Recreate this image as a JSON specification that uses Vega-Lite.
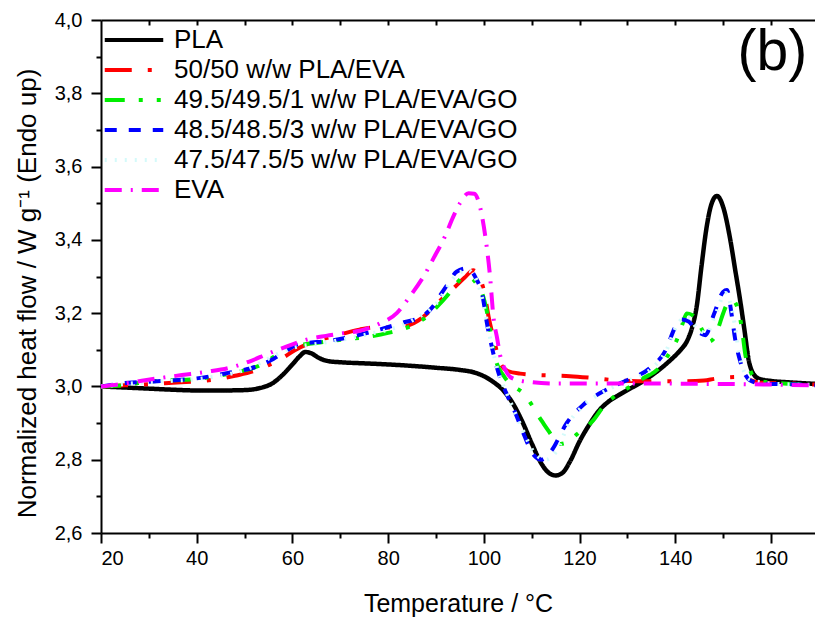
{
  "$schema": "https://vega.github.io/schema/vega-lite/v6.json",
  "width": 714,
  "height": 513,
  "autosize": {"type": "none"},
  "padding": {"left": 101, "top": 20, "right": 0, "bottom": 88},
  "background": "white",
  "config": {
    "font": "Liberation Sans",
    "text": {"font": "Liberation Sans"},
    "view": {"stroke": null},
    "axis": {"labelFont": "Liberation Sans", "titleFont": "Liberation Sans", "labelColor": "black", "titleColor": "black", "domainColor": "black", "tickColor": "black", "grid": false, "domainWidth": 2, "tickWidth": 2, "titleFontWeight": "normal"},
    "legend": {"labelFont": "Liberation Sans", "labelColor": "black"}
  },
  "datasets": {
    "curves": [
      {"s":"PLA","T":20,"v":3.000},{"s":"PLA","T":25,"v":2.997},{"s":"PLA","T":30,"v":2.994},{"s":"PLA","T":35,"v":2.991},{"s":"PLA","T":40,"v":2.989},{"s":"PLA","T":45,"v":2.989},{"s":"PLA","T":50,"v":2.990},{"s":"PLA","T":53,"v":2.995},{"s":"PLA","T":56,"v":3.010},{"s":"PLA","T":58,"v":3.032},{"s":"PLA","T":60,"v":3.060},{"s":"PLA","T":61.5,"v":3.082},{"s":"PLA","T":62.7,"v":3.094},{"s":"PLA","T":64,"v":3.090},{"s":"PLA","T":65.5,"v":3.078},{"s":"PLA","T":67.5,"v":3.069},{"s":"PLA","T":70,"v":3.066},{"s":"PLA","T":75,"v":3.063},{"s":"PLA","T":80,"v":3.060},{"s":"PLA","T":85,"v":3.056},{"s":"PLA","T":90,"v":3.051},{"s":"PLA","T":95,"v":3.045},{"s":"PLA","T":98,"v":3.038},{"s":"PLA","T":100,"v":3.028},{"s":"PLA","T":102,"v":3.012},{"s":"PLA","T":104,"v":2.990},{"s":"PLA","T":106,"v":2.955},{"s":"PLA","T":108,"v":2.905},{"s":"PLA","T":110,"v":2.845},{"s":"PLA","T":112,"v":2.790},{"s":"PLA","T":113.5,"v":2.765},{"s":"PLA","T":115,"v":2.757},{"s":"PLA","T":116.5,"v":2.765},{"s":"PLA","T":118,"v":2.795},{"s":"PLA","T":120,"v":2.850},{"s":"PLA","T":122,"v":2.895},{"s":"PLA","T":124,"v":2.933},{"s":"PLA","T":126,"v":2.958},{"s":"PLA","T":128,"v":2.975},{"s":"PLA","T":130,"v":2.990},{"s":"PLA","T":133,"v":3.012},{"s":"PLA","T":136,"v":3.039},{"s":"PLA","T":139,"v":3.072},{"s":"PLA","T":141,"v":3.098},{"s":"PLA","T":142.5,"v":3.125},{"s":"PLA","T":143.5,"v":3.160},{"s":"PLA","T":144.5,"v":3.220},{"s":"PLA","T":145.5,"v":3.330},{"s":"PLA","T":146.5,"v":3.430},{"s":"PLA","T":147.5,"v":3.495},{"s":"PLA","T":148.7,"v":3.520},{"s":"PLA","T":150,"v":3.490},{"s":"PLA","T":151.5,"v":3.400},{"s":"PLA","T":152.5,"v":3.320},{"s":"PLA","T":153.5,"v":3.240},{"s":"PLA","T":154.5,"v":3.150},{"s":"PLA","T":155.3,"v":3.075},{"s":"PLA","T":156.3,"v":3.035},{"s":"PLA","T":157.7,"v":3.020},{"s":"PLA","T":160,"v":3.015},{"s":"PLA","T":164,"v":3.011},{"s":"PLA","T":169.2,"v":3.007},

      {"s":"50/50 w/w PLA/EVA","T":20,"v":3.000},{"s":"50/50 w/w PLA/EVA","T":25,"v":3.003},{"s":"50/50 w/w PLA/EVA","T":30,"v":3.006},{"s":"50/50 w/w PLA/EVA","T":35,"v":3.010},{"s":"50/50 w/w PLA/EVA","T":40,"v":3.014},{"s":"50/50 w/w PLA/EVA","T":45,"v":3.021},{"s":"50/50 w/w PLA/EVA","T":48,"v":3.029},{"s":"50/50 w/w PLA/EVA","T":52,"v":3.042},{"s":"50/50 w/w PLA/EVA","T":55,"v":3.058},{"s":"50/50 w/w PLA/EVA","T":58,"v":3.078},{"s":"50/50 w/w PLA/EVA","T":60.5,"v":3.099},{"s":"50/50 w/w PLA/EVA","T":63,"v":3.115},{"s":"50/50 w/w PLA/EVA","T":66,"v":3.128},{"s":"50/50 w/w PLA/EVA","T":70,"v":3.142},{"s":"50/50 w/w PLA/EVA","T":74,"v":3.155},{"s":"50/50 w/w PLA/EVA","T":77,"v":3.161},{"s":"50/50 w/w PLA/EVA","T":80,"v":3.161},{"s":"50/50 w/w PLA/EVA","T":82,"v":3.159},{"s":"50/50 w/w PLA/EVA","T":84,"v":3.165},{"s":"50/50 w/w PLA/EVA","T":86.3,"v":3.180},{"s":"50/50 w/w PLA/EVA","T":88,"v":3.197},{"s":"50/50 w/w PLA/EVA","T":90.2,"v":3.226},{"s":"50/50 w/w PLA/EVA","T":92,"v":3.248},{"s":"50/50 w/w PLA/EVA","T":94,"v":3.272},{"s":"50/50 w/w PLA/EVA","T":96,"v":3.297},{"s":"50/50 w/w PLA/EVA","T":97.8,"v":3.317},{"s":"50/50 w/w PLA/EVA","T":99,"v":3.300},{"s":"50/50 w/w PLA/EVA","T":100,"v":3.262},{"s":"50/50 w/w PLA/EVA","T":101,"v":3.190},{"s":"50/50 w/w PLA/EVA","T":102.3,"v":3.117},{"s":"50/50 w/w PLA/EVA","T":103.4,"v":3.065},{"s":"50/50 w/w PLA/EVA","T":105,"v":3.042},{"s":"50/50 w/w PLA/EVA","T":107.6,"v":3.035},{"s":"50/50 w/w PLA/EVA","T":110,"v":3.032},{"s":"50/50 w/w PLA/EVA","T":114,"v":3.030},{"s":"50/50 w/w PLA/EVA","T":118,"v":3.028},{"s":"50/50 w/w PLA/EVA","T":122,"v":3.024},{"s":"50/50 w/w PLA/EVA","T":127.5,"v":3.017},{"s":"50/50 w/w PLA/EVA","T":135,"v":3.014},{"s":"50/50 w/w PLA/EVA","T":141.7,"v":3.014},{"s":"50/50 w/w PLA/EVA","T":146,"v":3.016},{"s":"50/50 w/w PLA/EVA","T":148.3,"v":3.021},{"s":"50/50 w/w PLA/EVA","T":151,"v":3.025},{"s":"50/50 w/w PLA/EVA","T":153.5,"v":3.026},{"s":"50/50 w/w PLA/EVA","T":155.5,"v":3.018},{"s":"50/50 w/w PLA/EVA","T":158,"v":3.010},{"s":"50/50 w/w PLA/EVA","T":164.6,"v":3.008},{"s":"50/50 w/w PLA/EVA","T":169.2,"v":3.005},

      {"s":"49.5/49.5/1 w/w PLA/EVA/GO","T":20,"v":3.000},{"s":"49.5/49.5/1 w/w PLA/EVA/GO","T":23,"v":3.001},{"s":"49.5/49.5/1 w/w PLA/EVA/GO","T":27,"v":3.008},{"s":"49.5/49.5/1 w/w PLA/EVA/GO","T":31,"v":3.014},{"s":"49.5/49.5/1 w/w PLA/EVA/GO","T":35,"v":3.017},{"s":"49.5/49.5/1 w/w PLA/EVA/GO","T":39,"v":3.019},{"s":"49.5/49.5/1 w/w PLA/EVA/GO","T":44,"v":3.028},{"s":"49.5/49.5/1 w/w PLA/EVA/GO","T":48.7,"v":3.040},{"s":"49.5/49.5/1 w/w PLA/EVA/GO","T":53.6,"v":3.060},{"s":"49.5/49.5/1 w/w PLA/EVA/GO","T":56,"v":3.080},{"s":"49.5/49.5/1 w/w PLA/EVA/GO","T":57.8,"v":3.099},{"s":"49.5/49.5/1 w/w PLA/EVA/GO","T":60,"v":3.110},{"s":"49.5/49.5/1 w/w PLA/EVA/GO","T":64,"v":3.117},{"s":"49.5/49.5/1 w/w PLA/EVA/GO","T":68,"v":3.124},{"s":"49.5/49.5/1 w/w PLA/EVA/GO","T":72,"v":3.130},{"s":"49.5/49.5/1 w/w PLA/EVA/GO","T":75,"v":3.134},{"s":"49.5/49.5/1 w/w PLA/EVA/GO","T":80,"v":3.146},{"s":"49.5/49.5/1 w/w PLA/EVA/GO","T":84.6,"v":3.164},{"s":"49.5/49.5/1 w/w PLA/EVA/GO","T":88,"v":3.190},{"s":"49.5/49.5/1 w/w PLA/EVA/GO","T":90.2,"v":3.217},{"s":"49.5/49.5/1 w/w PLA/EVA/GO","T":92.5,"v":3.250},{"s":"49.5/49.5/1 w/w PLA/EVA/GO","T":94.3,"v":3.281},{"s":"49.5/49.5/1 w/w PLA/EVA/GO","T":95.7,"v":3.297},{"s":"49.5/49.5/1 w/w PLA/EVA/GO","T":97,"v":3.297},{"s":"49.5/49.5/1 w/w PLA/EVA/GO","T":98.5,"v":3.280},{"s":"49.5/49.5/1 w/w PLA/EVA/GO","T":99.9,"v":3.244},{"s":"49.5/49.5/1 w/w PLA/EVA/GO","T":101,"v":3.180},{"s":"49.5/49.5/1 w/w PLA/EVA/GO","T":102,"v":3.100},{"s":"49.5/49.5/1 w/w PLA/EVA/GO","T":102.7,"v":3.063},{"s":"49.5/49.5/1 w/w PLA/EVA/GO","T":104,"v":3.032},{"s":"49.5/49.5/1 w/w PLA/EVA/GO","T":104.8,"v":3.017},{"s":"49.5/49.5/1 w/w PLA/EVA/GO","T":106.5,"v":2.998},{"s":"49.5/49.5/1 w/w PLA/EVA/GO","T":108.3,"v":2.981},{"s":"49.5/49.5/1 w/w PLA/EVA/GO","T":110,"v":2.950},{"s":"49.5/49.5/1 w/w PLA/EVA/GO","T":111.1,"v":2.926},{"s":"49.5/49.5/1 w/w PLA/EVA/GO","T":112.5,"v":2.898},{"s":"49.5/49.5/1 w/w PLA/EVA/GO","T":113.9,"v":2.871},{"s":"49.5/49.5/1 w/w PLA/EVA/GO","T":115,"v":2.850},{"s":"49.5/49.5/1 w/w PLA/EVA/GO","T":116,"v":2.843},{"s":"49.5/49.5/1 w/w PLA/EVA/GO","T":117.5,"v":2.848},{"s":"49.5/49.5/1 w/w PLA/EVA/GO","T":119.5,"v":2.870},{"s":"49.5/49.5/1 w/w PLA/EVA/GO","T":122.9,"v":2.908},{"s":"49.5/49.5/1 w/w PLA/EVA/GO","T":125,"v":2.945},{"s":"49.5/49.5/1 w/w PLA/EVA/GO","T":127.1,"v":2.971},{"s":"49.5/49.5/1 w/w PLA/EVA/GO","T":130,"v":2.995},{"s":"49.5/49.5/1 w/w PLA/EVA/GO","T":133,"v":3.020},{"s":"49.5/49.5/1 w/w PLA/EVA/GO","T":136.8,"v":3.053},{"s":"49.5/49.5/1 w/w PLA/EVA/GO","T":138.5,"v":3.085},{"s":"49.5/49.5/1 w/w PLA/EVA/GO","T":140.3,"v":3.126},{"s":"49.5/49.5/1 w/w PLA/EVA/GO","T":141.5,"v":3.170},{"s":"49.5/49.5/1 w/w PLA/EVA/GO","T":142.4,"v":3.199},{"s":"49.5/49.5/1 w/w PLA/EVA/GO","T":143.5,"v":3.195},{"s":"49.5/49.5/1 w/w PLA/EVA/GO","T":144.5,"v":3.181},{"s":"49.5/49.5/1 w/w PLA/EVA/GO","T":145.8,"v":3.150},{"s":"49.5/49.5/1 w/w PLA/EVA/GO","T":147,"v":3.122},{"s":"49.5/49.5/1 w/w PLA/EVA/GO","T":148,"v":3.130},{"s":"49.5/49.5/1 w/w PLA/EVA/GO","T":149,"v":3.160},{"s":"49.5/49.5/1 w/w PLA/EVA/GO","T":150,"v":3.199},{"s":"49.5/49.5/1 w/w PLA/EVA/GO","T":151,"v":3.228},{"s":"49.5/49.5/1 w/w PLA/EVA/GO","T":152,"v":3.235},{"s":"49.5/49.5/1 w/w PLA/EVA/GO","T":152.8,"v":3.222},{"s":"49.5/49.5/1 w/w PLA/EVA/GO","T":153.5,"v":3.190},{"s":"49.5/49.5/1 w/w PLA/EVA/GO","T":154.2,"v":3.130},{"s":"49.5/49.5/1 w/w PLA/EVA/GO","T":154.6,"v":3.090},{"s":"49.5/49.5/1 w/w PLA/EVA/GO","T":155.5,"v":3.050},{"s":"49.5/49.5/1 w/w PLA/EVA/GO","T":156.3,"v":3.026},{"s":"49.5/49.5/1 w/w PLA/EVA/GO","T":158,"v":3.014},{"s":"49.5/49.5/1 w/w PLA/EVA/GO","T":162.6,"v":3.008},{"s":"49.5/49.5/1 w/w PLA/EVA/GO","T":169.2,"v":3.004},

      {"s":"48.5/48.5/3 w/w PLA/EVA/GO","T":20,"v":3.000},{"s":"48.5/48.5/3 w/w PLA/EVA/GO","T":25.7,"v":3.010},{"s":"48.5/48.5/3 w/w PLA/EVA/GO","T":30,"v":3.013},{"s":"48.5/48.5/3 w/w PLA/EVA/GO","T":35.5,"v":3.017},{"s":"48.5/48.5/3 w/w PLA/EVA/GO","T":40,"v":3.022},{"s":"48.5/48.5/3 w/w PLA/EVA/GO","T":46.6,"v":3.037},{"s":"48.5/48.5/3 w/w PLA/EVA/GO","T":52.2,"v":3.053},{"s":"48.5/48.5/3 w/w PLA/EVA/GO","T":56,"v":3.075},{"s":"48.5/48.5/3 w/w PLA/EVA/GO","T":59,"v":3.100},{"s":"48.5/48.5/3 w/w PLA/EVA/GO","T":61.2,"v":3.115},{"s":"48.5/48.5/3 w/w PLA/EVA/GO","T":64,"v":3.120},{"s":"48.5/48.5/3 w/w PLA/EVA/GO","T":66.1,"v":3.122},{"s":"48.5/48.5/3 w/w PLA/EVA/GO","T":71.3,"v":3.133},{"s":"48.5/48.5/3 w/w PLA/EVA/GO","T":77.6,"v":3.153},{"s":"48.5/48.5/3 w/w PLA/EVA/GO","T":82.5,"v":3.172},{"s":"48.5/48.5/3 w/w PLA/EVA/GO","T":87.4,"v":3.194},{"s":"48.5/48.5/3 w/w PLA/EVA/GO","T":89.5,"v":3.220},{"s":"48.5/48.5/3 w/w PLA/EVA/GO","T":90.9,"v":3.249},{"s":"48.5/48.5/3 w/w PLA/EVA/GO","T":92.6,"v":3.282},{"s":"48.5/48.5/3 w/w PLA/EVA/GO","T":94.3,"v":3.313},{"s":"48.5/48.5/3 w/w PLA/EVA/GO","T":96.4,"v":3.322},{"s":"48.5/48.5/3 w/w PLA/EVA/GO","T":98.2,"v":3.299},{"s":"48.5/48.5/3 w/w PLA/EVA/GO","T":99.9,"v":3.235},{"s":"48.5/48.5/3 w/w PLA/EVA/GO","T":100.6,"v":3.176},{"s":"48.5/48.5/3 w/w PLA/EVA/GO","T":101.6,"v":3.112},{"s":"48.5/48.5/3 w/w PLA/EVA/GO","T":102.7,"v":3.053},{"s":"48.5/48.5/3 w/w PLA/EVA/GO","T":104.4,"v":2.990},{"s":"48.5/48.5/3 w/w PLA/EVA/GO","T":106.5,"v":2.930},{"s":"48.5/48.5/3 w/w PLA/EVA/GO","T":108.3,"v":2.871},{"s":"48.5/48.5/3 w/w PLA/EVA/GO","T":110.3,"v":2.815},{"s":"48.5/48.5/3 w/w PLA/EVA/GO","T":112,"v":2.800},{"s":"48.5/48.5/3 w/w PLA/EVA/GO","T":114.2,"v":2.826},{"s":"48.5/48.5/3 w/w PLA/EVA/GO","T":117.3,"v":2.900},{"s":"48.5/48.5/3 w/w PLA/EVA/GO","T":120.8,"v":2.950},{"s":"48.5/48.5/3 w/w PLA/EVA/GO","T":125,"v":2.987},{"s":"48.5/48.5/3 w/w PLA/EVA/GO","T":129.9,"v":3.017},{"s":"48.5/48.5/3 w/w PLA/EVA/GO","T":134.7,"v":3.050},{"s":"48.5/48.5/3 w/w PLA/EVA/GO","T":138,"v":3.099},{"s":"48.5/48.5/3 w/w PLA/EVA/GO","T":140,"v":3.162},{"s":"48.5/48.5/3 w/w PLA/EVA/GO","T":141.3,"v":3.183},{"s":"48.5/48.5/3 w/w PLA/EVA/GO","T":142.7,"v":3.178},{"s":"48.5/48.5/3 w/w PLA/EVA/GO","T":144.5,"v":3.152},{"s":"48.5/48.5/3 w/w PLA/EVA/GO","T":146.3,"v":3.140},{"s":"48.5/48.5/3 w/w PLA/EVA/GO","T":148,"v":3.194},{"s":"48.5/48.5/3 w/w PLA/EVA/GO","T":150,"v":3.258},{"s":"48.5/48.5/3 w/w PLA/EVA/GO","T":150.8,"v":3.263},{"s":"48.5/48.5/3 w/w PLA/EVA/GO","T":151.8,"v":3.194},{"s":"48.5/48.5/3 w/w PLA/EVA/GO","T":152.5,"v":3.130},{"s":"48.5/48.5/3 w/w PLA/EVA/GO","T":153.5,"v":3.072},{"s":"48.5/48.5/3 w/w PLA/EVA/GO","T":155.6,"v":3.017},{"s":"48.5/48.5/3 w/w PLA/EVA/GO","T":158,"v":3.008},{"s":"48.5/48.5/3 w/w PLA/EVA/GO","T":163.3,"v":3.006},{"s":"48.5/48.5/3 w/w PLA/EVA/GO","T":169.2,"v":3.003},

      {"s":"47.5/47.5/5 w/w PLA/EVA/GO","T":20,"v":3.000},{"s":"47.5/47.5/5 w/w PLA/EVA/GO","T":30,"v":3.012},{"s":"47.5/47.5/5 w/w PLA/EVA/GO","T":40,"v":3.020},{"s":"47.5/47.5/5 w/w PLA/EVA/GO","T":50,"v":3.045},{"s":"47.5/47.5/5 w/w PLA/EVA/GO","T":60,"v":3.105},{"s":"47.5/47.5/5 w/w PLA/EVA/GO","T":66,"v":3.118},{"s":"47.5/47.5/5 w/w PLA/EVA/GO","T":75,"v":3.140},{"s":"47.5/47.5/5 w/w PLA/EVA/GO","T":85,"v":3.180},{"s":"47.5/47.5/5 w/w PLA/EVA/GO","T":90,"v":3.225},{"s":"47.5/47.5/5 w/w PLA/EVA/GO","T":94,"v":3.300},{"s":"47.5/47.5/5 w/w PLA/EVA/GO","T":96.5,"v":3.318},{"s":"47.5/47.5/5 w/w PLA/EVA/GO","T":98.5,"v":3.290},{"s":"47.5/47.5/5 w/w PLA/EVA/GO","T":100,"v":3.220},{"s":"47.5/47.5/5 w/w PLA/EVA/GO","T":101.5,"v":3.120},{"s":"47.5/47.5/5 w/w PLA/EVA/GO","T":103,"v":3.040},{"s":"47.5/47.5/5 w/w PLA/EVA/GO","T":105,"v":2.975},{"s":"47.5/47.5/5 w/w PLA/EVA/GO","T":108,"v":2.885},{"s":"47.5/47.5/5 w/w PLA/EVA/GO","T":110.5,"v":2.820},{"s":"47.5/47.5/5 w/w PLA/EVA/GO","T":113,"v":2.800},{"s":"47.5/47.5/5 w/w PLA/EVA/GO","T":115,"v":2.820},{"s":"47.5/47.5/5 w/w PLA/EVA/GO","T":118,"v":2.905},{"s":"47.5/47.5/5 w/w PLA/EVA/GO","T":121,"v":2.950},{"s":"47.5/47.5/5 w/w PLA/EVA/GO","T":125,"v":2.985},{"s":"47.5/47.5/5 w/w PLA/EVA/GO","T":130,"v":3.015},{"s":"47.5/47.5/5 w/w PLA/EVA/GO","T":135,"v":3.048},{"s":"47.5/47.5/5 w/w PLA/EVA/GO","T":138,"v":3.095},{"s":"47.5/47.5/5 w/w PLA/EVA/GO","T":140.5,"v":3.170},{"s":"47.5/47.5/5 w/w PLA/EVA/GO","T":142.5,"v":3.190},{"s":"47.5/47.5/5 w/w PLA/EVA/GO","T":144.5,"v":3.160},{"s":"47.5/47.5/5 w/w PLA/EVA/GO","T":146.5,"v":3.145},{"s":"47.5/47.5/5 w/w PLA/EVA/GO","T":148.5,"v":3.200},{"s":"47.5/47.5/5 w/w PLA/EVA/GO","T":150.5,"v":3.255},{"s":"47.5/47.5/5 w/w PLA/EVA/GO","T":152,"v":3.200},{"s":"47.5/47.5/5 w/w PLA/EVA/GO","T":153.5,"v":3.080},{"s":"47.5/47.5/5 w/w PLA/EVA/GO","T":155.5,"v":3.020},{"s":"47.5/47.5/5 w/w PLA/EVA/GO","T":160,"v":3.008},{"s":"47.5/47.5/5 w/w PLA/EVA/GO","T":169.2,"v":3.004},

      {"s":"EVA","T":20,"v":3.000},{"s":"EVA","T":25,"v":3.008},{"s":"EVA","T":29.2,"v":3.017},{"s":"EVA","T":33,"v":3.024},{"s":"EVA","T":36.9,"v":3.031},{"s":"EVA","T":42,"v":3.040},{"s":"EVA","T":46.6,"v":3.050},{"s":"EVA","T":51,"v":3.068},{"s":"EVA","T":55,"v":3.090},{"s":"EVA","T":59,"v":3.110},{"s":"EVA","T":63.3,"v":3.129},{"s":"EVA","T":67,"v":3.138},{"s":"EVA","T":71,"v":3.146},{"s":"EVA","T":74.1,"v":3.152},{"s":"EVA","T":78,"v":3.170},{"s":"EVA","T":81.8,"v":3.200},{"s":"EVA","T":84.5,"v":3.245},{"s":"EVA","T":87.4,"v":3.300},{"s":"EVA","T":89.5,"v":3.350},{"s":"EVA","T":91.9,"v":3.410},{"s":"EVA","T":93.5,"v":3.460},{"s":"EVA","T":95,"v":3.500},{"s":"EVA","T":96.8,"v":3.527},{"s":"EVA","T":98,"v":3.526},{"s":"EVA","T":99.2,"v":3.490},{"s":"EVA","T":100.3,"v":3.410},{"s":"EVA","T":101.3,"v":3.300},{"s":"EVA","T":102,"v":3.190},{"s":"EVA","T":102.8,"v":3.130},{"s":"EVA","T":103.4,"v":3.085},{"s":"EVA","T":104.5,"v":3.045},{"s":"EVA","T":105.5,"v":3.026},{"s":"EVA","T":107.5,"v":3.016},{"s":"EVA","T":109.7,"v":3.012},{"s":"EVA","T":115,"v":3.008},{"s":"EVA","T":125,"v":3.008},{"s":"EVA","T":135,"v":3.008},{"s":"EVA","T":145,"v":3.007},{"s":"EVA","T":155,"v":3.006},{"s":"EVA","T":160,"v":3.005},{"s":"EVA","T":169.2,"v":3.003}
    ],
    "labels": [{"T": 160.3, "v": 3.864, "label": "(b)"}]
  },
  "layer": [
    {
      "data": {"name": "curves"},
      "transform": [{"filter": "datum.s === 'PLA'"}],
      "mark": {"type": "line", "strokeWidth": 4.5, "interpolate": "monotone", "strokeCap": "butt"},
      "encoding": {
        "x": {"field": "T", "type": "quantitative", "scale": {"domain": [20, 169.2], "nice": false, "zero": false},
          "axis": {"orient": "bottom", "values": [20, 40, 60, 80, 100, 120, 140, 160], "tickSize": 10, "labelFontSize": 20, "labelPadding": 5, "title": "Temperature / °C", "titleFontSize": 25, "titleY": 78, "titleBaseline": "alphabetic"}},
        "y": {"field": "v", "type": "quantitative", "scale": {"domain": [2.6, 4.0], "nice": false, "zero": false},
          "axis": {"orient": "left", "values": [2.6, 2.8, 3.0, 3.2, 3.4, 3.6, 3.8, 4.0], "tickSize": 10, "labelFontSize": 20, "labelPadding": 9, "labelExpr": "replace(format(datum.value, '.1f'), '.', ',')", "title": "Normalized heat flow / W g⁻¹ (Endo up)", "titleFontSize": 26, "titleX": -66, "titleY": 273, "titleBaseline": "alphabetic"}},
        "color": {"field": "s", "type": "nominal", "scale": {"domain": ["PLA", "50/50 w/w PLA/EVA", "49.5/49.5/1 w/w PLA/EVA/GO", "48.5/48.5/3 w/w PLA/EVA/GO", "47.5/47.5/5 w/w PLA/EVA/GO", "EVA"], "range": ["#000000", "#ff0000", "#00ee00", "#0000ff", "#d4fafa", "#ff00ff"]},
          "legend": {"title": null, "orient": "none", "legendX": 20, "legendY": 7, "padding": 0, "symbolType": "M-3,0H3", "symbolSize": 380, "symbolStrokeWidth": 4, "labelFont": "Liberation Sans", "labelFontSize": 26, "labelOffset": 27, "labelLimit": 0, "rowPadding": 4}},
        "strokeDash": {"field": "s", "type": "nominal", "scale": {"domain": ["PLA", "50/50 w/w PLA/EVA", "49.5/49.5/1 w/w PLA/EVA/GO", "48.5/48.5/3 w/w PLA/EVA/GO", "47.5/47.5/5 w/w PLA/EVA/GO", "EVA"], "range": [[1, 0], [27, 16, 4, 16], [20, 14, 4, 14, 4, 14], [12, 12], [2, 8], [17, 9, 2, 9]]},
          "legend": {"title": null}}
      }
    },
    {
      "data": {"name": "curves"},
      "transform": [{"filter": "datum.s !== 'PLA'"}],
      "mark": {"type": "line", "strokeWidth": 4, "interpolate": "monotone", "strokeCap": "butt"},
      "encoding": {
        "x": {"field": "T", "type": "quantitative", "scale": {"domain": [20, 169.2], "nice": false, "zero": false},
          "axis": {"orient": "bottom", "values": [30, 50, 70, 90, 110, 130, 150], "tickSize": 5, "labels": false, "domain": false, "title": null}},
        "y": {"field": "v", "type": "quantitative", "scale": {"domain": [2.6, 4.0], "nice": false, "zero": false},
          "axis": {"orient": "left", "values": [2.7, 2.9, 3.1, 3.3, 3.5, 3.7, 3.9], "tickSize": 5, "labels": false, "domain": false, "title": null}},
        "color": {"field": "s", "type": "nominal"},
        "strokeDash": {"field": "s", "type": "nominal"}
      }
    },
    {
      "data": {"name": "labels"},
      "mark": {"type": "text", "font": "Liberation Sans", "fontSize": 57, "align": "center", "baseline": "alphabetic", "color": "black"},
      "encoding": {
        "x": {"field": "T", "type": "quantitative", "scale": {"domain": [20, 169.2], "nice": false, "zero": false},
          "axis": {"orient": "top", "values": [30, 40, 50, 60, 70, 80, 90, 100, 110, 120, 130, 140, 150, 160], "tickSize": -5, "labels": false, "title": null}},
        "y": {"field": "v", "type": "quantitative", "scale": {"domain": [2.6, 4.0], "nice": false, "zero": false}, "axis": null},
        "text": {"field": "label"}
      }
    }
  ],
  "resolve": {"axis": {"x": "independent", "y": "independent"}}
}
